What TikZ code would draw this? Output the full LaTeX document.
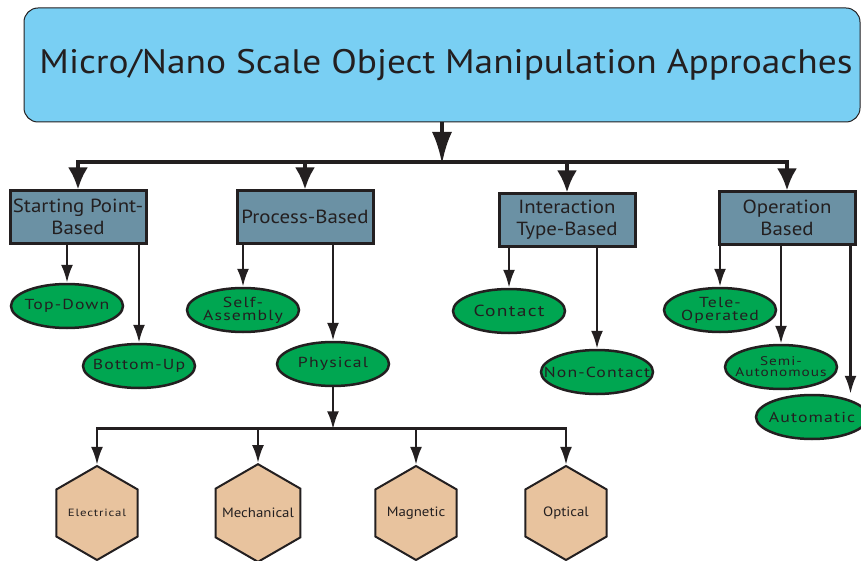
\documentclass[tikz,border=0pt]{standalone}
\usepackage{fontspec}
\setmainfont[FakeStretch=1.1]{PT Sans}
\newfontfamily\leaffont[FakeStretch=1.22,LetterSpace=8]{PT Sans}
\usetikzlibrary{arrows.meta,shapes.geometric,positioning}

\definecolor{titleblue}{HTML}{79CFF3}
\definecolor{boxgray}{HTML}{6B91A4}
\definecolor{leafgreen}{HTML}{00A651}
\definecolor{hextan}{HTML}{E8C39E}
\definecolor{ink}{HTML}{231F20}

\begin{document}
\begin{tikzpicture}[x=1pt,y=-1pt,color=ink,
	title/.style={draw,fill=titleblue,rounded corners=14pt,line width=1pt,
		minimum width=836pt,minimum height=114pt,inner sep=0pt,
		font=\fontsize{34}{40}\selectfont},
	group/.style={draw,fill=boxgray,line width=3pt,minimum width=136pt,
		minimum height=52pt,inner sep=0pt,align=center,
		font=\fontsize{19}{22}\selectfont},
	leaf/.style={ellipse,draw,fill=leafgreen,line width=2.5pt,
		minimum width=112pt,minimum height=44pt,inner xsep=-20pt,inner ysep=0pt,
		align=center,font=\leaffont\fontsize{14.5}{13}\selectfont},
	kind/.style={regular polygon,regular polygon sides=6,shape border rotate=30,
		draw,fill=hextan,line width=2pt,minimum size=94pt,inner sep=-6pt,
		font=\fontsize{13.5}{14}\selectfont},
	big/.style={-{Latex[length=22pt,width=20pt]},line width=4pt},
	small/.style={-{Latex[length=18pt,width=12pt]},line width=2.5pt}]

\useasboundingbox (0,0) rectangle (861,561);

\node[title] (top) at (442,65) {\hspace*{8pt}Micro/Nano Scale Object Manipulation Approaches};

% the four ways of sorting them
\node[group] (sp) at (78,217) {Starting Point-\\Based};
\node[group] (pb) at (305,217) {Process-Based};
\node[group] (ib) at (567,220) {Interaction\\Type-Based};
\node[group] (ob) at (787,218) {Operation\\Based};

\node[leaf] (td) at (67,306) {Top-Down};
\node[leaf] (bu) at (139,366) {Bottom-Up};
\node[leaf] (sa) at (243,310) {Self-\\Assembly};
\node[leaf] (ph) at (333,364) {Physical};
\node[leaf,font=\leaffont\fontsize{16}{13}\selectfont] (co) at (509,311) {Contact};
\node[leaf] (nc) at (597,372) {Non-Contact};
\node[leaf] (to) at (720,310) {Tele-\\Operated};
\node[leaf,font=\leaffont\fontsize{12.5}{11}\selectfont] (se) at (781,367) {Semi-\\Autonomous};
\node[leaf] (au) at (812,417) {Automatic};

\node[kind,font=\leaffont\fontsize{10.5}{12}\selectfont] (el) at (97,513) {Electrical};
\node[kind] (me) at (258,513) {Mechanical};
\node[kind] (ma) at (416,513) {Magnetic};
\node[kind] (op) at (566,513) {Optical};

\coordinate (bus) at (442,162);
\draw[big,-{Latex[length=32pt,width=20pt]}] (top) -- ([yshift=-2pt]bus);
\foreach \n in {sp,pb,ib,ob}{
	\draw[big] (bus) -| (\n.north);
}

\foreach \p/\c in {sp/td,sp/bu,pb/sa,pb/ph,ib/co,ib/nc,ob/to,ob/se}{
	\draw[small] (\p.south -| \c.north) -- (\c.north);
}
\draw[small] ([xshift=-6pt]ob.south east) -- ([xshift=-6pt]ob.south east |- au.north);

\path (ph.south) ++(0,41) coordinate (hbus);
\draw[small] (ph) -- ([yshift=-1pt]hbus);
\foreach \h in {el,me,ma,op}{
	\draw[small] (hbus) -| (\h.north);
}

\end{tikzpicture}
\end{document}
